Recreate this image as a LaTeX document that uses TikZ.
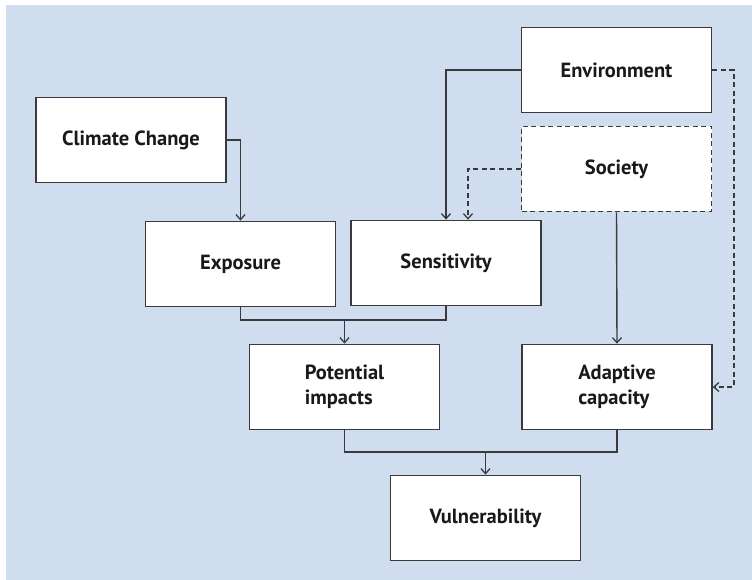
\documentclass[tikz,border=0pt]{standalone}
\usepackage{fontspec}
\setmainfont{PT Sans}
\usetikzlibrary{arrows.meta}
\definecolor{bgblue}{HTML}{D0DDEF}
\definecolor{linegray}{HTML}{3A3A3A}
\begin{document}
\begin{tikzpicture}[x=1pt,y=-1pt,
  box/.style={draw=linegray, line width=1.8pt, fill=white, minimum width=190pt, minimum height=85pt, inner sep=0pt, font=\fontsize{20.5}{25}\selectfont\bfseries, text=black!90},
  dbox/.style={box, dash pattern=on 5pt off 3.5pt},
  conn/.style={draw=linegray, line width=1.4pt},
  arr/.style={conn, -{Straight Barb[length=5pt,width=9pt,line width=1.3pt]}},
  darr/.style={arr, dash pattern=on 5pt off 3.5pt},
  dconn/.style={conn, dash pattern=on 5pt off 3.5pt}]
\useasboundingbox (0,0) rectangle (752,580);
\fill[bgblue] (6,5) rectangle (752,580);

\node[box] (cc) at (131,140) {Climate Change};
\node[box] (env) at (616.5,70) {Environment};
\node[dbox] (soc) at (616.5,169) {Society};
\node[box] (exp) at (240.5,264) {Exposure};
\node[box] (sen) at (446,263) {Sensitivity};
\node[box, align=left] (pot) at (344.5,387) {Potential\\impacts};
\node[box, align=left] (ada) at (617,387) {Adaptive\\capacity};
\node[box] (vul) at (485.5,518) {Vulnerability};

\draw[arr] (cc.east) -| (exp.north);
\draw[arr] (env.west) -| (sen.north);
\draw[darr] (soc.west) -| ([xshift=22pt]sen.north);
\draw[arr] (soc.south) -- (ada.north);
\coordinate (e1) at ([xshift=21.5pt]env.east);
\draw[darr] (env.east) -- (e1) |- (ada.east);

\coordinate (j1) at (pot.north |- 0,320);
\draw[conn] (exp.south) |- (j1) -| (sen.south);
\draw[arr] (j1) -- (pot.north);

\coordinate (j2) at (vul.north |- 0,452);
\draw[conn] (pot.south) |- (j2) -| (ada.south);
\draw[arr] (j2) -- (vul.north);
\end{tikzpicture}
\end{document}
